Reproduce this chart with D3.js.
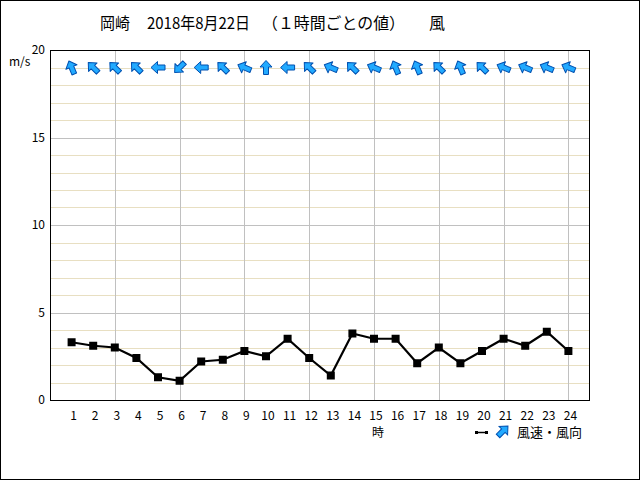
<!DOCTYPE html>
<html><head><meta charset="utf-8">
<script src="https://cdn.jsdelivr.net/npm/d3@7"></script>
<style>
body{margin:0;background:#fff;}
svg{display:block;font-family:"Noto Sans CJK JP","Noto Sans",sans-serif;}
</style></head>
<body>
<script>
const hours = [1,2,3,4,5,6,7,8,9,10,11,12,13,14,15,16,17,18,19,20,21,22,23,24];
const windSpeed = [3.3,3.1,3.0,2.4,1.3,1.1,2.2,2.3,2.8,2.5,3.5,2.4,1.4,3.8,3.5,3.5,2.1,3.0,2.1,2.8,3.5,3.1,3.9,2.8];
const windDir = ["南南東","南東","南東","南東","東","北東","東","南東","東南東","南","東","南東",
                 "東南東","南東","東南東","南南東","南南東","南東","南南東","南東","東南東","東南東","東南東","東南東"];
const compass = ["北","北北東","北東","東北東","東","東南東","南東","南南東","南","南南西","南西","西南西","西","西北西","北西","北北西"];
const yTicks = [0,5,10,15,20];
const xTickLabels = hours.map(String);
const titleParts = ["岡崎","2018年8月22日","（１時間ごとの値）","風"];

const W=640,H=480;
const svg=d3.select("body").append("svg").attr("width",W).attr("height",H);
svg.append("rect").attr("x",0.5).attr("y",0.5).attr("width",W-1).attr("height",H-1).attr("fill","#fff").attr("stroke","#000");

const L=50,R=590,T=50,B=400;
const x=d3.scaleLinear().domain([0,25]).range([L,R]);
const y=d3.scaleLinear().domain([0,20]).range([B,T]);

// minor grid
const g=svg.append("g");
g.selectAll(".mn").data(d3.range(1,20).filter(v=>v%5!==0)).enter().append("line")
 .attr("x1",L).attr("x2",R).attr("y1",d=>Math.round(y(d))+0.5).attr("y2",d=>Math.round(y(d))+0.5)
 .attr("stroke","#e8dfc2").attr("stroke-width",1);
g.selectAll(".mj").data([5,10,15]).enter().append("line")
 .attr("x1",L).attr("x2",R).attr("y1",d=>Math.round(y(d))+0.5).attr("y2",d=>Math.round(y(d))+0.5)
 .attr("stroke","#c0c0c0").attr("stroke-width",1);
g.selectAll(".vx").data(hours.filter(h=>h%3===0)).enter().append("line")
 .attr("y1",T).attr("y2",B).attr("x1",d=>Math.round(x(d))+0.5).attr("x2",d=>Math.round(x(d))+0.5)
 .attr("stroke","#c0c0c0").attr("stroke-width",1);

// frame
svg.append("rect").attr("x",L+0.5).attr("y",T+0.5).attr("width",R-L-1).attr("height",B-T).attr("fill","none").attr("stroke","#000");

// y axis labels
svg.selectAll(".yt").data(yTicks).enter().append("text")
 .attr("x",45).attr("y",d=>y(d)+4).attr("text-anchor","end").attr("font-size",12).attr("fill","#000").text(d=>d);
svg.append("text").attr("x",9).attr("y",66).attr("font-size",12).text("m/s");

// x labels
svg.selectAll(".xt").data(hours).enter().append("text")
 .attr("x",d=>x(d)+2).attr("y",420).attr("text-anchor","middle").attr("font-size",12).text((d,i)=>xTickLabels[i]);
svg.append("text").attr("x",378).attr("y",437).attr("text-anchor","middle").attr("font-size",12).text("時");

// title
const tx=[100,147,262,429];
const tw=[30,103,143,16];
svg.selectAll(".tt").data(titleParts).enter().append("text")
 .attr("x",(d,i)=>tx[i]).attr("y",29).attr("font-size",16)
 .attr("textLength",(d,i)=>tw[i]).attr("lengthAdjust","spacingAndGlyphs").text(d=>d);

// line
const line=d3.line().x((d,i)=>x(hours[i])).y(d=>y(d));
svg.append("path").datum(windSpeed).attr("d",line).attr("fill","none").attr("stroke","#000").attr("stroke-width",2.2);
svg.selectAll(".mk").data(windSpeed).enter().append("rect")
 .attr("x",(d,i)=>x(hours[i])-4).attr("y",d=>y(d)-4).attr("width",8).attr("height",8).attr("fill","#000");

// arrows
const arrowPath="M0,-7 L6,-0.5 L2.5,-0.5 L2.5,7 L-2.5,7 L-2.5,-0.5 L-6,-0.5 Z";
const ang=d=>(compass.indexOf(d)*22.5+180)%360;
svg.selectAll(".ar").data(windDir).enter().append("path")
 .attr("d",arrowPath)
 .attr("transform",(d,i)=>`translate(${x(hours[i])},${y(19)}) rotate(${ang(d)})`)
 .attr("fill","#22aaff").attr("stroke","#0050b0").attr("stroke-width",1).attr("stroke-linejoin","round");

// legend
svg.append("line").attr("x1",476).attr("x2",487).attr("y1",432.5).attr("y2",432.5).attr("stroke","#000").attr("stroke-width",1.5);
svg.append("rect").attr("x",475).attr("y",431).attr("width",3).attr("height",3);
svg.append("rect").attr("x",485).attr("y",431).attr("width",3).attr("height",3);
svg.append("path").attr("d",arrowPath).attr("transform","translate(503,431) rotate(45)")
 .attr("fill","#22aaff").attr("stroke","#0050b0").attr("stroke-width",1);
svg.append("text").attr("x",517).attr("y",437).attr("font-size",13).text("風速・風向");
</script>
</body></html>
